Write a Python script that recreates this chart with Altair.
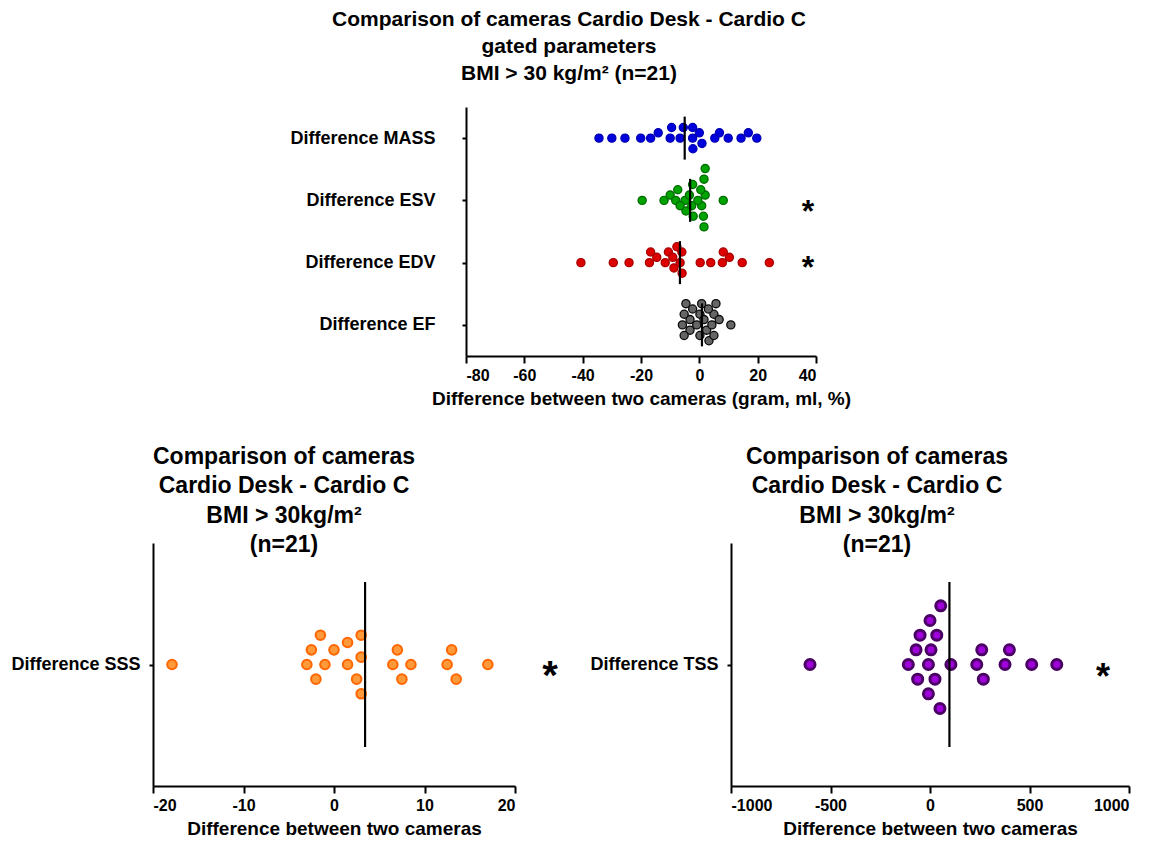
import json
import altair as alt
import pandas as pd

FONT = "Liberation Sans"

# ---------------- data ----------------
top_categories = ["Difference MASS", "Difference ESV", "Difference EDV", "Difference EF"]
mass_values = [-34.4, -30.0, -25.5, -14.1, -10.0, 9.9, 19.7, -20.1, -6.6, -2.3, 0.0,
               6.9, 16.8, -2.3, -16.7, -5.5, 0.9, 5.3, 14.3, -9.5, -2.2]
esv_values = [-19.6, -12.1, -7.4, -4.9, -2.3, 2.0, 0.8, -4.6, -2.1, 1.4, 0.5,
              8.2, -10.0, -8.1, -3.4, -0.5, 1.6, 1.6, -6.6, -2.6, 2.0]
edv_values = [-8.7, -5.9, -14.6, 10.3, -10.6, -7.7, 3.9, -40.6, -29.5, -24.1, -17.1,
              7.9, 14.7, 24.0, -11.7, -6.6, 0.3, -16.7, 8.2, -9.1, -6.0]
ef_values = [-3.2, 0.2, 5.7, -5.2, 3.3, -4.6, -0.9, 2.5, 5.0, -5.8, 0.8,
             3.1, 10.8, -3.2, 0.2, 5.0, -5.2, 4.3, -2.3, 1.6, 6.8]
top_significant = ["Difference ESV", "Difference EDV"]

sss_category = "Difference SSS"
sss_values = [-17.9, -3.0, -2.0, -2.5, -1.5, -1.0, 0.0, 1.5, 1.5, 2.5, 3.0,
              3.0, 3.0, 7.0, 6.5, 8.5, 7.5, 13.0, 12.5, 13.5, 17.0]

tss_category = "Difference TSS"
tss_values = [-603, 54, 34, -62, 5, -109, -8, 105, -70, -8, -50,
              0, 25, 50, 260, 235, 268, 377, 399, 511, 637]

top_ticks = [-80, -60, -40, -20, 0, 20, 40]
sss_ticks = [-20, -10, 0, 10, 20]
tss_ticks = [-1000, -500, 0, 500, 1000]

top_title = ["Comparison of cameras Cardio Desk - Cardio C", "gated parameters",
             "BMI > 30 kg/m\u00b2 (n=21)"]
bottom_title = ["Comparison of cameras", "Cardio Desk - Cardio C",
                "BMI > 30kg/m\u00b2", "(n=21)"]

# ---------------- styles ----------------
top_fill = ["#0000dd", "#00a300", "#dd0000", "#666666"]
top_stroke = ["#0000b4", "#006b00", "#a80000", "#0a0a0a"]
top_star_dy = {"Difference ESV": 22, "Difference EDV": 15}

TOP_W, TOP_H = 350, 249
BL_W, BR_W, BOT_H = 362, 398, 243


def lane_swarm(values, px_per_unit, step, d_same, d_adj):
    """Lane beeswarm: a point takes the nearest lane with room beside its neighbours."""
    order = sorted(range(len(values)), key=lambda i: values[i])
    lanes = [0]
    for k in range(1, 40):
        lanes += [-k, k]
    placed, offsets = [], [0.0] * len(values)
    for i in order:
        x = values[i] * px_per_unit
        chosen = 0
        for lane in lanes:
            ok = True
            for px, pl in placed:
                if pl == lane and abs(x - px) < d_same:
                    ok = False
                    break
                if abs(pl - lane) == 1 and abs(x - px) < d_adj:
                    ok = False
                    break
            if ok:
                chosen = lane
                break
        placed.append((x, chosen))
        offsets[i] = chosen * step
    return offsets


def round_swarm(values, px_per_unit, diameter, step):
    """Beeswarm with round collision test (pixels)."""
    order = sorted(range(len(values)), key=lambda i: values[i])
    lanes = [0]
    for k in range(1, 40):
        lanes += [-k, k]
    placed, offsets = [], [0.0] * len(values)
    for i in order:
        x = values[i] * px_per_unit
        y = 0.0
        for lane in lanes:
            y = lane * step
            if all((x - px) ** 2 + (y - py) ** 2 >= diameter ** 2 for px, py in placed):
                break
        placed.append((x, y))
        offsets[i] = y
    return offsets


def frame(category, row, values, offs, row_px):
    return pd.DataFrame({"category": category, "row": row, "value": values,
                         "ypos": [row + o / row_px for o in offs]})


label_expr = "'' + datum.value"


def cat_label_expr(cats):
    return json.dumps(cats) + "[datum.value]"


# ---------------- top chart ----------------
top_series = [mass_values, esv_values, edv_values, ef_values]
band_top = TOP_H / len(top_categories)
top_df = pd.concat([frame(c, i, v, lane_swarm(v, TOP_W / 120, 5.3, 8.5, 3.5), band_top)
                    for i, (c, v) in enumerate(zip(top_categories, top_series))],
                   ignore_index=True)

x_top = alt.X("value:Q",
              scale=alt.Scale(domain=[-80, 40], nice=False, zero=False),
              axis=alt.Axis(values=top_ticks, labelExpr=label_expr,
                            title="Difference between two cameras (gram, ml, %)",
                            tickSize=7, labelFontSize=16, titleFontSize=19,
                            labelPadding=4, titlePadding=6))
y_scale_top = alt.Scale(domain=[-0.5, len(top_categories) - 0.5], reverse=True,
                        nice=False, zero=False)
y_top = alt.Y("ypos:Q", scale=y_scale_top,
              axis=alt.Axis(title=None, values=list(range(len(top_categories))),
                            labelExpr=cat_label_expr(top_categories),
                            tickSize=4, labelPadding=27, labelFontSize=18))

top_points = alt.Chart(top_df).mark_point(
    filled=True, shape="circle", size=66, strokeWidth=1.3, opacity=1
).encode(
    x=x_top, y=y_top,
    fill=alt.Fill("category:N", scale=alt.Scale(domain=top_categories, range=top_fill), legend=None),
    stroke=alt.Stroke("category:N", scale=alt.Scale(domain=top_categories, range=top_stroke), legend=None),
)
top_mean = alt.Chart(top_df).mark_tick(
    color="black", thickness=2.2, size=43, opacity=1, orient="vertical"
).encode(x=alt.X("mean(value):Q"), y=alt.Y("row:Q", scale=y_scale_top))

top_layers = [top_points, top_mean]
for cat in top_significant:
    star_df = pd.DataFrame({"category": [cat], "row": [top_categories.index(cat)]})
    top_layers.append(alt.Chart(star_df).mark_text(
        text="*", font=FONT, fontWeight="bold", fontSize=32, baseline="alphabetic",
        align="center", dy=top_star_dy[cat], color="black"
    ).encode(x=alt.value(342), y=alt.Y("row:Q", scale=y_scale_top)))

top_chart = alt.layer(*top_layers).properties(
    width=TOP_W, height=TOP_H,
    title=alt.TitleParams(top_title, font=FONT, fontSize=21, fontWeight="bold", color="black",
                          lineHeight=27, anchor="middle", frame="group", dx=-72, offset=23))


# ---------------- bottom charts ----------------
def bottom_chart(category, values, domain, ticks, width, diameter, step,
                 size, fill, stroke, stroke_width, star_x, star_size, star_dy, title_dx):
    offs = round_swarm(values, width / (domain[1] - domain[0]), diameter, step)
    df = frame(category, 0, values, offs, BOT_H)
    y_scale = alt.Scale(domain=[-0.5, 0.5], reverse=True, nice=False, zero=False)
    x = alt.X("value:Q", scale=alt.Scale(domain=domain, nice=False, zero=False),
              axis=alt.Axis(values=ticks, labelExpr=label_expr,
                            title="Difference between two cameras",
                            tickSize=7, labelFontSize=16, titleFontSize=19,
                            labelPadding=4, titlePadding=6))
    y = alt.Y("ypos:Q", scale=y_scale,
              axis=alt.Axis(title=None, values=[0], labelExpr=cat_label_expr([category]),
                            tickSize=4, labelPadding=9, labelFontSize=18))
    pts = alt.Chart(df).mark_point(
        filled=True, shape="circle", size=size, fill=fill, stroke=stroke,
        strokeWidth=stroke_width, opacity=1
    ).encode(x=x, y=y)
    mean = alt.Chart(df).mark_tick(
        color="black", thickness=2.2, size=165, opacity=1, orient="vertical"
    ).encode(x=alt.X("mean(value):Q"), y=alt.Y("row:Q", scale=y_scale))
    star = alt.Chart(pd.DataFrame({"category": [category], "row": [0]})).mark_text(
        text="*", font=FONT, fontWeight="bold", fontSize=star_size, baseline="alphabetic",
        align="center", dy=star_dy, color="black"
    ).encode(x=alt.value(star_x), y=alt.Y("row:Q", scale=y_scale))
    return alt.layer(pts, mean, star).properties(
        width=width, height=BOT_H,
        title=alt.TitleParams(bottom_title, font=FONT, fontSize=23, fontWeight="bold",
                              color="black", lineHeight=29.5, anchor="middle", frame="group",
                              dx=title_dx, offset=-14))


bl_chart = bottom_chart(sss_category, sss_values, [-20, 20], sss_ticks, BL_W, 14.7, 7.33,
                        92, "#ff9a3a", "#ff6600", 2, 397, 40, 24, -50)
br_chart = bottom_chart(tss_category, tss_values, [-1000, 1000], tss_ticks, BR_W, 14.7, 7.33,
                        100, "#a000dc", "#4a0064", 3, 372, 36, 24, -53)

spacer = alt.Chart(pd.DataFrame({"a": [0]})).mark_point(opacity=0).properties(width=136, height=1)

top_row = alt.hconcat(spacer, top_chart, spacing=0)
bottom_row = alt.hconcat(bl_chart, br_chart, spacing=31)

chart = alt.vconcat(top_row, bottom_row, spacing=37).properties(
    padding={"left": 2, "top": 1, "right": 5, "bottom": 2}
).configure_view(stroke=None).configure_axis(
    domainColor="black", domainWidth=2, tickColor="black", tickWidth=2,
    labelColor="black", titleColor="black", labelFont=FONT, titleFont=FONT,
    labelFontWeight="bold", titleFontWeight="bold", grid=False
)

chart.save("out.html", embed_options={"renderer": "svg", "actions": False})
